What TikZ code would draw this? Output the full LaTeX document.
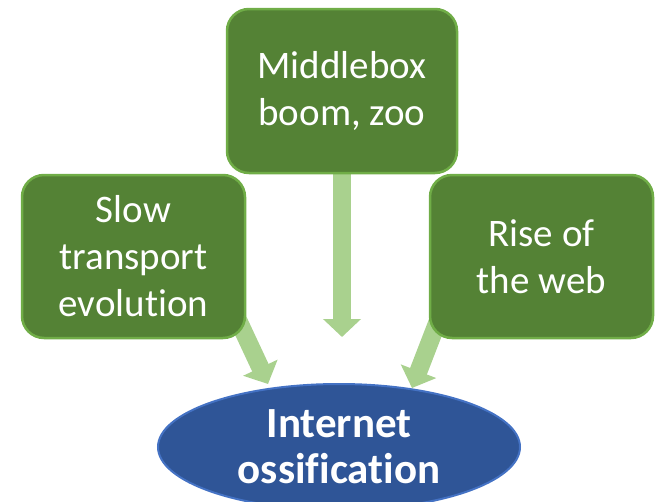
\documentclass[tikz,border=0pt]{standalone}
\usepackage{fontspec}
\setmainfont{Carlito}[RawFeature={-liga;-clig;-calt;-dlig}]
\usetikzlibrary{arrows.meta,shapes.geometric,backgrounds}

\definecolor{boxfill}{HTML}{548235}
\definecolor{boxedge}{HTML}{70AD47}
\definecolor{arrowgreen}{HTML}{A9D18E}
\definecolor{ovalfill}{HTML}{2F5597}
\definecolor{ovaledge}{HTML}{4472C4}

% keep "t" and "i" as separate glyphs
\newcommand{\splitti}{t\kern0pt i}

\tikzset{
  causebox/.style={draw=boxedge, fill=boxfill, line width=2.5pt,
    rounded corners=22pt, text=white, align=center, inner sep=0pt,
    font=\fontsize{39}{47}\selectfont},
  effectoval/.style={ellipse, draw=ovaledge, fill=ovalfill, line width=2pt,
    text=white, align=center, inner sep=0pt,
    font=\fontsize{43}{46}\selectfont\bfseries},
  blockarrow/.style={draw=arrowgreen, line width=18pt,
    -{Triangle[width=37pt,length=18pt]}}
}

\begin{document}
\begin{tikzpicture}[x=1pt, y=-1pt]
  \useasboundingbox (0,0) rectangle (656,501);

  % the three causes
  \node[causebox, minimum width=223pt, minimum height=163pt] (slow)
    at (133.5,256.5) {Slow\\transport\\evolu\splitti on};
  \node[causebox, minimum width=230pt, minimum height=164pt] (mbox)
    at (342,91) {Middlebox\\boom, zoo};
  \node[causebox, minimum width=223pt, minimum height=163pt] (web)
    at (541.5,256.5) {Rise of\\the web};

  % the effect
  \node[effectoval, minimum width=362pt, minimum height=126pt] (oss)
    at (339,447) {Internet\\ossifica\splitti on};

  % arrow ends
  \path (slow.south east) ++(-16,-36) coordinate (slowfrom);
  \coordinate (slowto) at (268,384);
  \coordinate (mboxto) at (mbox.south |- 0,337);
  \path (web.south west) ++(16,-36) coordinate (webfrom);
  \coordinate (webto) at (412,388);

  \begin{pgfonlayer}{background}
    \draw[blockarrow] (slowfrom) -- (slowto);
    \draw[blockarrow] (mbox.south) -- (mboxto);
    \draw[blockarrow] (webfrom) -- (webto);
  \end{pgfonlayer}
\end{tikzpicture}
\end{document}
